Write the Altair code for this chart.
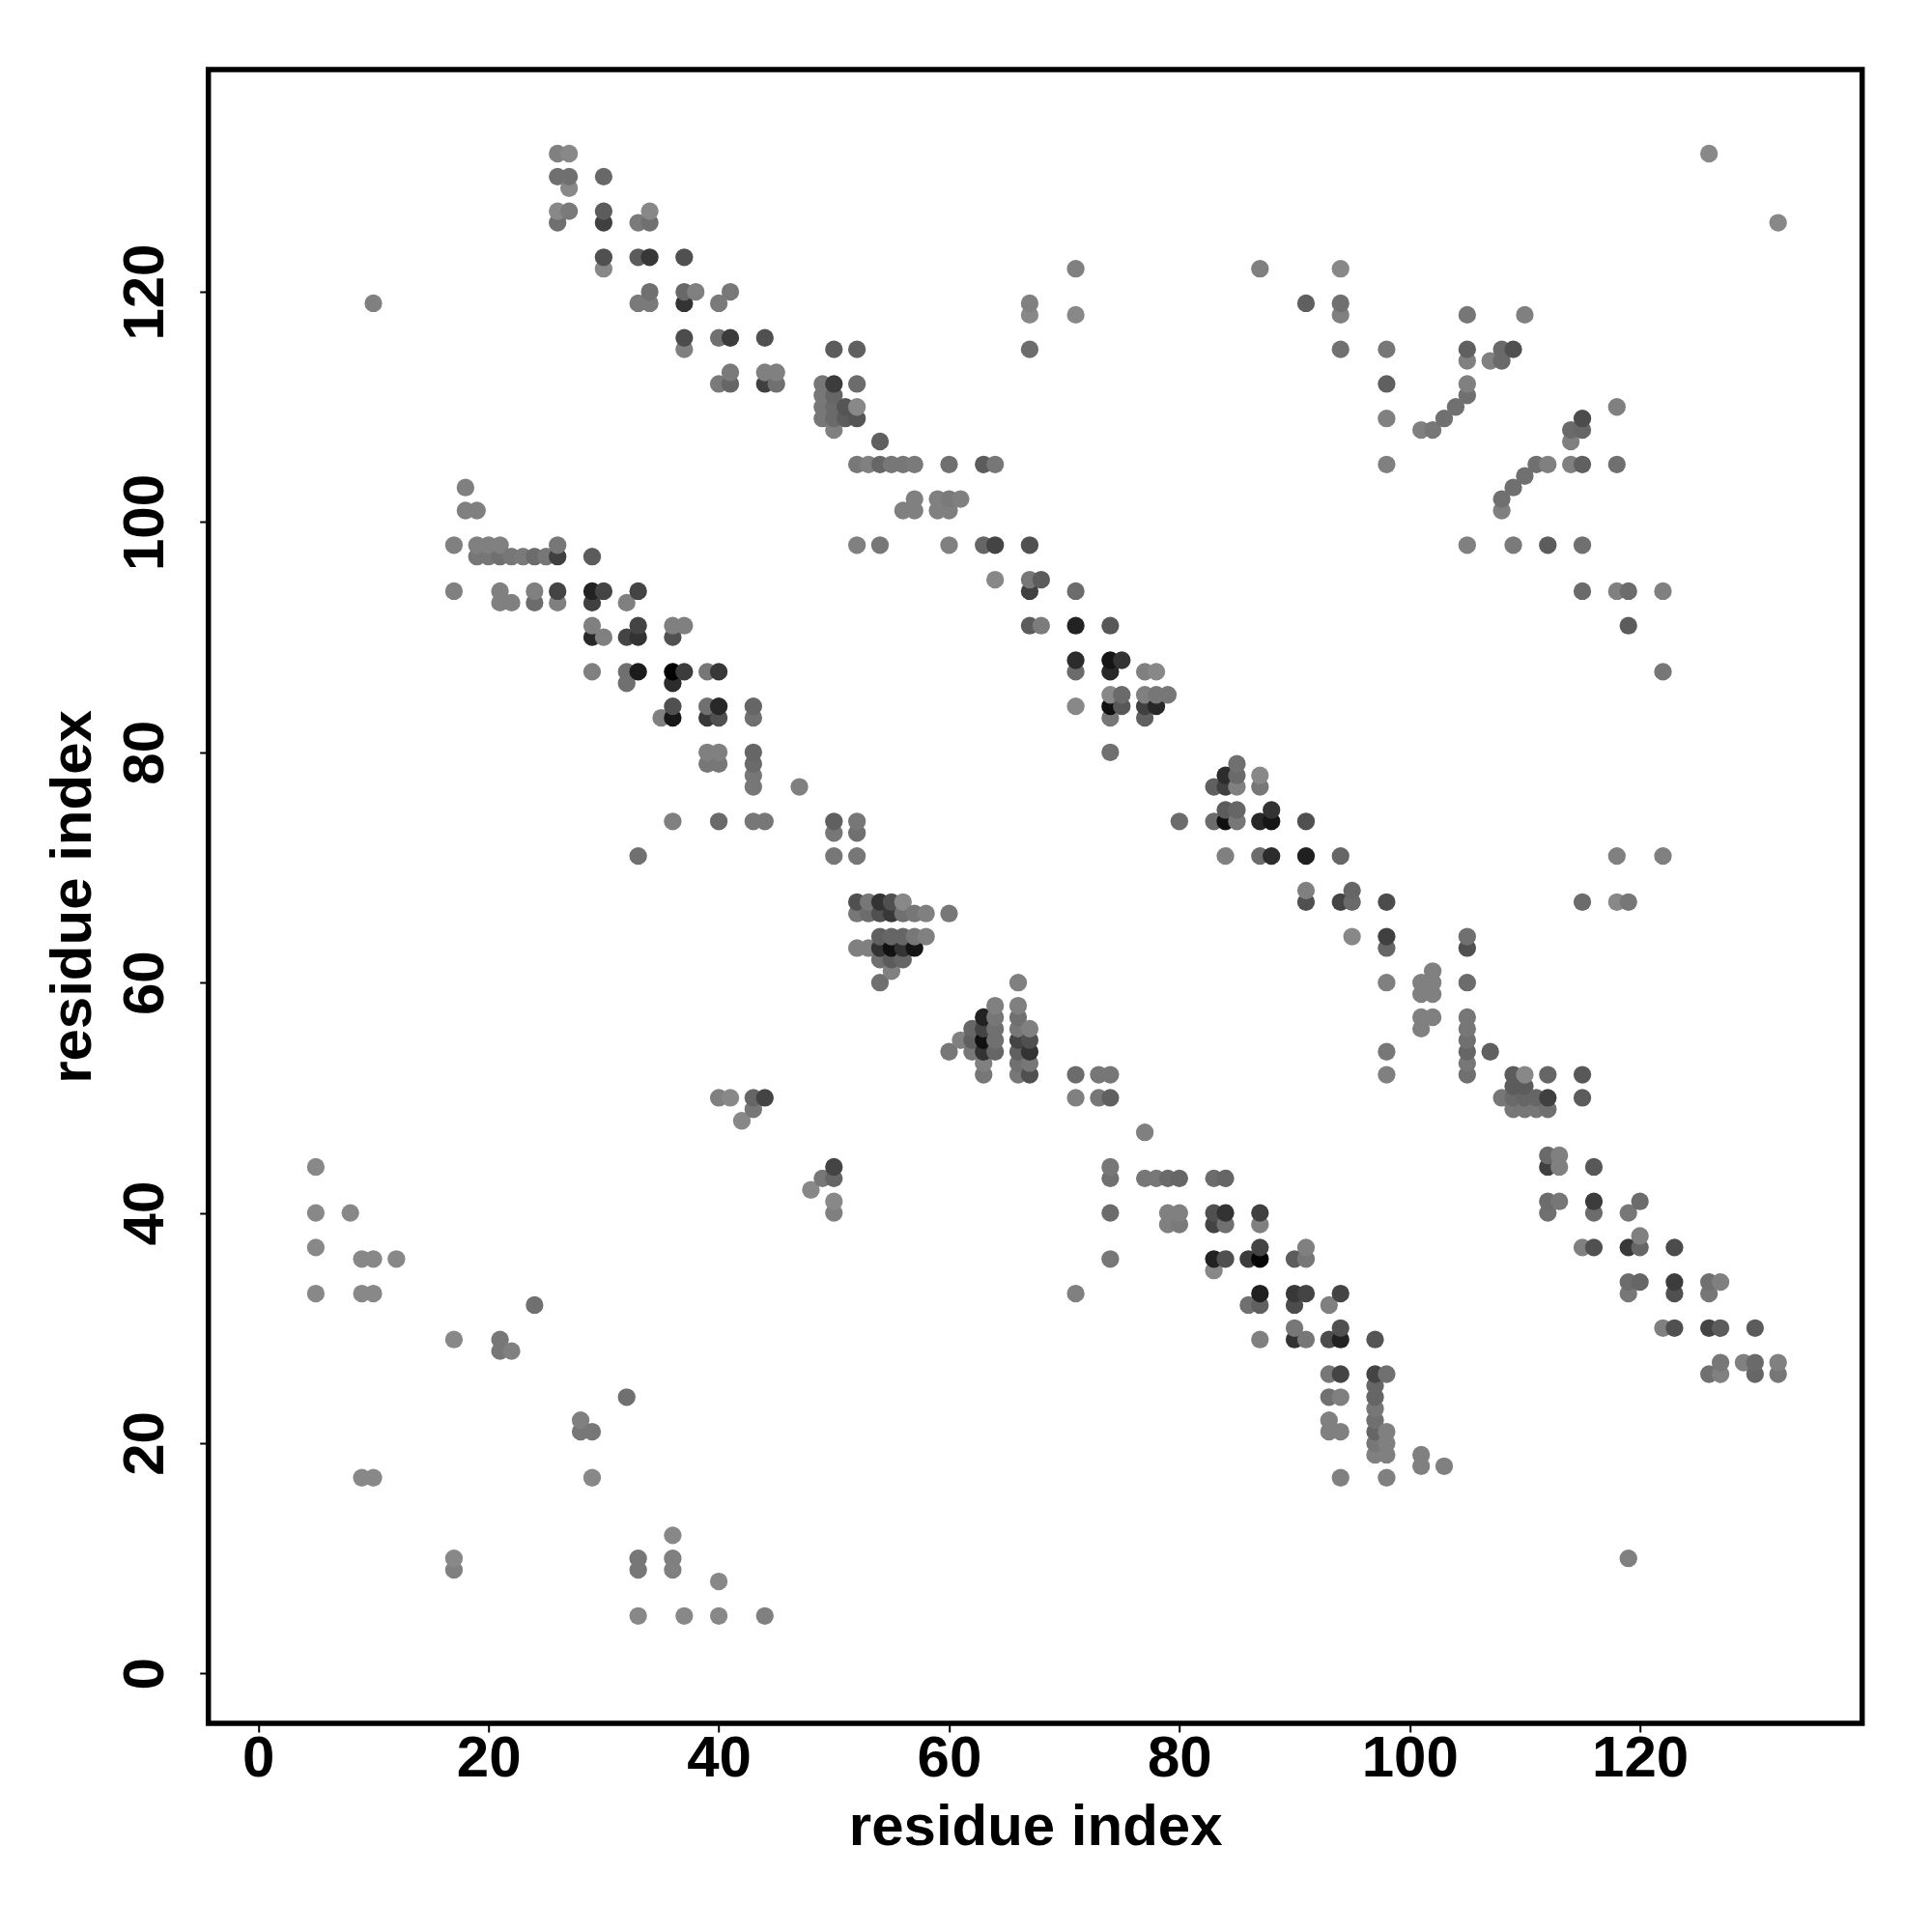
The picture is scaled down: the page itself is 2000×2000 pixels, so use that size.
import altair as alt
import pandas as pd

tick_values = [0, 20, 40, 60, 80, 100, 120]
axis_title = "residue index"

row_y = [132, 130, 129, 127, 126, 123, 122, 120, 119, 118, 116, 115, 114, 113, 112, 111, 110, 109, 108, 107,
         105, 104, 103, 102, 101, 98, 97, 95, 94, 93, 91, 90, 88, 87, 86, 85, 84, 83, 80, 79, 78, 77, 75, 74, 73,
         71, 68, 67, 66, 64, 63, 62, 61, 60, 59, 58, 57, 56, 55, 54, 53, 52, 51, 50, 49, 48, 47, 45, 44, 43, 42,
         41, 40, 39, 38, 37, 36, 35, 34, 33, 32, 30, 29, 28, 27, 26, 25, 24, 23, 22, 21, 20, 19, 18, 17, 12, 10,
         9, 8, 5]

row_x = [
    [26, 27, 126], [26, 27, 30], [27], [26, 27, 30, 34], [26, 30, 33, 34, 132], [30, 33, 34, 37],
    [30, 71, 87, 94], [34, 37, 38, 41], [10, 33, 34, 37, 40, 67, 91, 94], [67, 71, 94, 105, 110],
    [37, 40, 41, 44], [37, 50, 52, 67, 94, 98, 105, 108, 109], [105, 107, 108], [41, 44, 45],
    [40, 41, 44, 45, 49, 50, 52, 98, 105], [49, 50, 105], [49, 50, 51, 52, 104, 118],
    [49, 50, 51, 52, 98, 103, 115], [50, 101, 102, 114, 115], [54, 114],
    [52, 53, 54, 55, 56, 57, 60, 63, 64, 98, 111, 112, 114, 115, 118], [110], [18, 109],
    [57, 59, 60, 61, 108], [18, 19, 56, 57, 59, 60, 108],
    [17, 19, 20, 21, 26, 52, 54, 60, 63, 64, 67, 105, 109, 112, 115], [19, 20, 21, 22, 23, 24, 25, 26, 29],
    [64, 67, 68], [17, 21, 24, 26, 29, 30, 33, 67, 71, 115, 118, 119, 122], [21, 22, 24, 26, 29, 32],
    [29, 33, 36, 37, 67, 68, 71, 74, 119], [29, 30, 32, 33, 36], [71, 74, 75],
    [29, 32, 33, 36, 37, 39, 40, 71, 74, 77, 78, 122], [32, 36], [74, 75, 77, 78, 79],
    [36, 39, 40, 43, 71, 74, 75, 77, 78], [35, 36, 39, 40, 43, 74, 77], [39, 40, 43, 74], [39, 40, 43, 85],
    [43, 84, 85, 87], [43, 47, 83, 84, 85, 87], [84, 85, 88],
    [36, 40, 43, 44, 50, 52, 80, 83, 84, 85, 87, 88, 91], [50, 52],
    [33, 50, 52, 84, 87, 88, 91, 94, 118, 122], [91, 95], [52, 53, 54, 55, 56, 91, 94, 95, 98, 115, 118, 119],
    [52, 53, 54, 55, 56, 57, 58, 60], [54, 55, 56, 57, 58, 95, 98, 105], [52, 53, 54, 55, 56, 57, 98, 105],
    [54, 55, 56], [55, 102], [54, 66, 98, 101, 102, 105], [101, 102], [64, 66],
    [63, 64, 66, 101, 102, 105], [62, 63, 64, 66, 67, 101, 105], [61, 62, 63, 64, 66, 67, 105],
    [60, 62, 63, 64, 66, 67, 98, 105, 107], [63, 66, 67, 105],
    [63, 66, 67, 71, 73, 74, 98, 105, 109, 110, 112, 115], [109, 110],
    [40, 41, 43, 44, 71, 73, 74, 108, 109, 110, 111, 112, 115], [43, 109, 110, 111, 112], [42], [77],
    [112, 113], [5, 50, 74, 112, 113, 116], [49, 50, 74, 77, 78, 79, 80, 83, 84], [48],
    [50, 112, 113, 116, 120], [5, 8, 50, 74, 79, 80, 83, 84, 87, 112, 116, 119], [79, 80, 83, 84, 87], [120],
    [5, 87, 91, 115, 116, 119, 120, 123], [9, 10, 12, 74, 83, 84, 86, 87, 90, 91], [83],
    [119, 120, 123, 126, 127], [5, 9, 10, 71, 87, 90, 91, 94, 119, 123, 126], [24, 86, 87, 90, 93],
    [90, 94, 122, 123, 126, 127, 130], [17, 21, 87, 90, 91, 93, 94, 97], [21, 22], [127, 129, 130, 132],
    [93, 94, 97, 98, 126, 127, 130, 132], [97], [32, 93, 94, 97], [97], [28, 93, 97],
    [28, 29, 93, 94, 97, 98], [97, 98], [97, 98, 101], [101, 103], [9, 10, 29, 94, 98], [36],
    [17, 33, 36, 119], [17, 33, 36], [40], [33, 37, 40, 44],
]

row_gray = [
    [0x80, 0x88, 0x88], [0x70, 0x70, 0x68], [0x88], [0x88, 0x7a, 0x5c, 0x88], [0x70, 0x40, 0x7a, 0x70, 0x88],
    [0x50, 0x5c, 0x38, 0x50], [0x88, 0x80, 0x80, 0x88], [0x70, 0x68, 0x80, 0x78],
    [0x80, 0x7a, 0x7a, 0x33, 0x7a, 0x80, 0x60, 0x70], [0x88, 0x88, 0x80, 0x77, 0x80],
    [0x4c, 0x70, 0x3c, 0x50], [0x80, 0x5c, 0x60, 0x6c, 0x70, 0x77, 0x60, 0x6a, 0x50], [0x80, 0x80, 0x6a],
    [0x7a, 0x80, 0x80], [0x7a, 0x66, 0x40, 0x70, 0x77, 0x3c, 0x6c, 0x60, 0x80], [0x77, 0x66, 0x70],
    [0x77, 0x6a, 0x55, 0x88, 0x70, 0x80], [0x77, 0x6a, 0x5c, 0x55, 0x80, 0x70, 0x4c],
    [0x80, 0x80, 0x77, 0x6a, 0x66], [0x60, 0x80],
    [0x78, 0x80, 0x66, 0x77, 0x77, 0x7a, 0x70, 0x5c, 0x77, 0x80, 0x70, 0x80, 0x80, 0x60, 0x70], [0x70], [0x80, 0x70],
    [0x80, 0x80, 0x7a, 0x80, 0x70], [0x80, 0x80, 0x80, 0x80, 0x80, 0x80, 0x80],
    [0x80, 0x80, 0x80, 0x80, 0x77, 0x80, 0x77, 0x80, 0x66, 0x44, 0x50, 0x80, 0x7a, 0x5c, 0x70],
    [0x77, 0x77, 0x70, 0x77, 0x7a, 0x6c, 0x77, 0x40, 0x5c],
    [0x88, 0x77, 0x5c], [0x80, 0x80, 0x80, 0x44, 0x22, 0x44, 0x44, 0x40, 0x6c, 0x6a, 0x80, 0x6c, 0x80],
    [0x80, 0x80, 0x6c, 0x80, 0x40, 0x80],
    [0x80, 0x44, 0x80, 0x80, 0x5c, 0x7c, 0x22, 0x58, 0x5c], [0x28, 0x80, 0x44, 0x33, 0x50], [0x2c, 0x15, 0x33],
    [0x80, 0x70, 0x1c, 0x00, 0x3c, 0x77, 0x38, 0x6c, 0x28, 0x80, 0x88, 0x77], [0x70, 0x2c],
    [0x88, 0x6a, 0x80, 0x77, 0x77],
    [0x50, 0x70, 0x28, 0x66, 0x88, 0x10, 0x58, 0x40, 0x28], [0x80, 0x18, 0x38, 0x50, 0x70, 0x77, 0x60],
    [0x80, 0x80, 0x66, 0x70], [0x77, 0x77, 0x6a, 0x70],
    [0x77, 0x2c, 0x6a, 0x88], [0x77, 0x80, 0x60, 0x40, 0x80, 0x77], [0x5c, 0x66, 0x33],
    [0x80, 0x6a, 0x77, 0x77, 0x60, 0x77, 0x6c, 0x6c, 0x10, 0x77, 0x28, 0x15, 0x50], [0x77, 0x70],
    [0x70, 0x77, 0x77, 0x80, 0x6c, 0x2c, 0x20, 0x66, 0x80, 0x80], [0x80, 0x66],
    [0x50, 0x77, 0x33, 0x50, 0x88, 0x50, 0x44, 0x6a, 0x4c, 0x6c, 0x88, 0x77],
    [0x77, 0x6c, 0x50, 0x38, 0x70, 0x77, 0x80, 0x77], [0x60, 0x66, 0x66, 0x77, 0x80, 0x88, 0x40, 0x70],
    [0x80, 0x80, 0x33, 0x11, 0x33, 0x15, 0x66, 0x50],
    [0x70, 0x5c, 0x66], [0x80, 0x80], [0x70, 0x80, 0x80, 0x80, 0x80, 0x6c], [0x80, 0x80], [0x80, 0x80],
    [0x22, 0x77, 0x70, 0x80, 0x80, 0x77], [0x66, 0x44, 0x70, 0x77, 0x80, 0x80, 0x77],
    [0x80, 0x60, 0x11, 0x70, 0x44, 0x50, 0x70],
    [0x77, 0x77, 0x33, 0x66, 0x60, 0x33, 0x77, 0x66, 0x60], [0x80, 0x70, 0x77, 0x77],
    [0x77, 0x77, 0x50, 0x6c, 0x77, 0x77, 0x80, 0x70, 0x5c, 0x88, 0x66, 0x58], [0x5c, 0x5c],
    [0x80, 0x88, 0x66, 0x44, 0x80, 0x77, 0x60, 0x77, 0x6a, 0x66, 0x66, 0x40, 0x5c],
    [0x77, 0x77, 0x77, 0x77, 0x70], [0x88], [0x80],
    [0x6a, 0x80], [0x88, 0x44, 0x77, 0x40, 0x80, 0x58], [0x77, 0x66, 0x70, 0x77, 0x77, 0x6a, 0x66, 0x6c, 0x66], [0x88],
    [0x88, 0x6c, 0x77, 0x3c, 0x6c], [0x88, 0x88, 0x80, 0x6c, 0x80, 0x80, 0x50, 0x33, 0x40, 0x70, 0x6c, 0x77],
    [0x80, 0x7a, 0x44, 0x70, 0x80], [0x80],
    [0x88, 0x44, 0x80, 0x80, 0x50, 0x38, 0x66, 0x4c], [0x88, 0x88, 0x88, 0x77, 0x22, 0x50, 0x3c, 0x05, 0x5c, 0x77], [0x88],
    [0x6c, 0x66, 0x3c, 0x70, 0x80], [0x88, 0x88, 0x88, 0x80, 0x20, 0x38, 0x44, 0x44, 0x77, 0x50, 0x77],
    [0x70, 0x70, 0x60, 0x4c, 0x80],
    [0x77, 0x50, 0x80, 0x50, 0x44, 0x5c, 0x5c], [0x88, 0x77, 0x80, 0x33, 0x77, 0x4c, 0x22, 0x55], [0x77, 0x80],
    [0x77, 0x80, 0x6a, 0x80],
    [0x77, 0x44, 0x44, 0x70, 0x70, 0x80, 0x66, 0x77], [0x66], [0x70, 0x70, 0x80, 0x66], [0x77], [0x80, 0x80, 0x70],
    [0x77, 0x77, 0x80, 0x80, 0x66, 0x80], [0x77, 0x80], [0x80, 0x80, 0x80], [0x80, 0x80],
    [0x88, 0x88, 0x88, 0x80, 0x80], [0x88],
    [0x88, 0x77, 0x80, 0x80], [0x80, 0x77, 0x80], [0x88], [0x88, 0x88, 0x88, 0x80],
]

rows = []
for y, xs, grays in zip(row_y, row_x, row_gray):
    assert len(xs) == len(grays), y
    for x, g in zip(xs, grays):
        rows.append({"x": x, "y": y, "c": "#%02x%02x%02x" % (g, g, g)})
df = pd.DataFrame(rows).sort_values(["x", "y"])

font = "Liberation Sans"
dom = [-4.33, 139.3]

x_axis = alt.Axis(values=tick_values, title=axis_title, grid=False, domain=False, tickSize=9, tickWidth=2,
                  tickColor="black", labelFont=font, labelFontWeight="bold", labelFontSize=60,
                  labelColor="black", labelPadding=-1, titleFont=font, titleFontWeight="bold",
                  titleFontSize=60, titleColor="black", titlePadding=12, labelFlush=False, labelOverlap=False)
y_axis = alt.Axis(values=tick_values, title=axis_title, grid=False, domain=False, tickSize=9, tickWidth=2,
                  tickColor="black", labelFont=font, labelFontWeight="bold", labelFontSize=60,
                  labelColor="black", labelAngle=270, labelAlign="center", labelBaseline="bottom",
                  labelPadding=25, titleFont=font, titleFontWeight="bold", titleFontSize=60,
                  titleColor="black", titlePadding=14, labelFlush=False, labelOverlap=False)

chart = (
    alt.Chart(df)
    .mark_circle(size=335, opacity=1, stroke=None)
    .encode(
        x=alt.X("x:Q", scale=alt.Scale(domain=dom, nice=False, zero=False), axis=x_axis),
        y=alt.Y("y:Q", scale=alt.Scale(domain=dom, nice=False, zero=False), axis=y_axis),
        color=alt.Color("c:N", scale=None),
    )
    .properties(
        width=1712, height=1712,
        autosize=alt.AutoSizeParams(type="none"),
        padding={"left": 207.7, "top": 64, "right": 60, "bottom": 200},
        background="white",
    )
    .configure_view(stroke="black", strokeWidth=5.5)
)

chart.save("out.html", embed_options={"renderer": "svg", "actions": False})
